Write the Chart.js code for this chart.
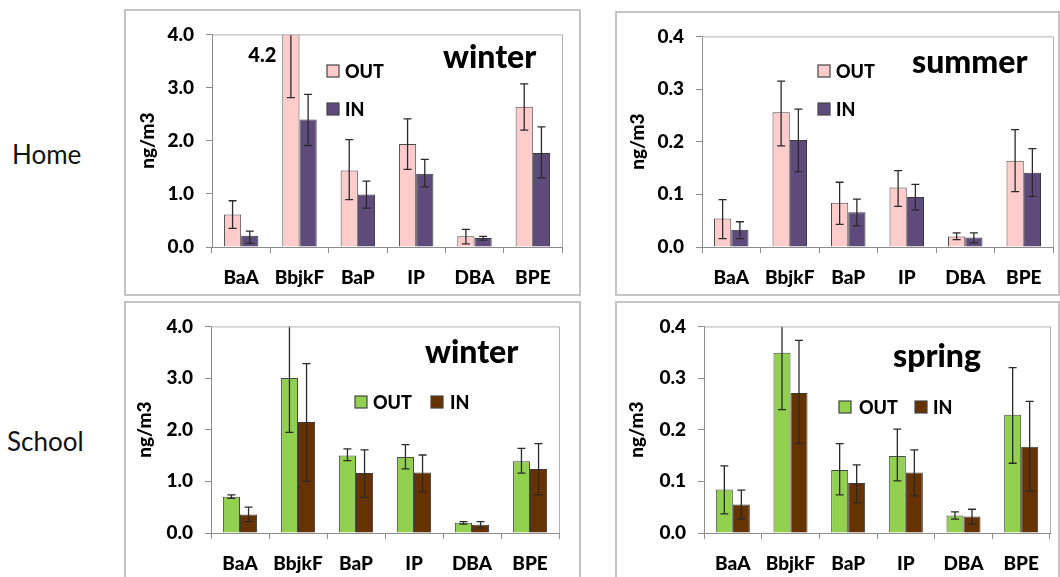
<!DOCTYPE html>
<html>
<head>
<meta charset="utf-8">
<script src="https://cdn.jsdelivr.net/npm/chart.js@4.4.1/dist/chart.umd.min.js"></script>
<style>
  body { margin: 0; width: 1060px; height: 577px; overflow: hidden; background: #fff; position: relative; font-family: Lato, sans-serif; }
  .panel { position: absolute; border: 2px solid #c4c4c4; box-sizing: border-box; background: #fff; }
  .panel div { position: absolute; left: 0; top: 0; right: 0; bottom: 0; }
  .row { position: absolute; font-size: 26px; color: #111; line-height: 1; }
</style>
</head>
<body>
<div class="row" style="left:12px; top:141px;">Home</div>
<div class="row" style="left:7px; top:428px;">School</div>

<div class="panel" style="left:124px; top:9px; width:457px; height:287px;"><div><canvas id="c1"></canvas></div></div>
<div class="panel" style="left:615px; top:11px; width:445px; height:285px;"><div><canvas id="c2"></canvas></div></div>
<div class="panel" style="left:124px; top:301px; width:457px; height:300px;"><div><canvas id="c3"></canvas></div></div>
<div class="panel" style="left:615px; top:301px; width:445px; height:300px;"><div><canvas id="c4"></canvas></div></div>

<script>
const categories = ['BaA', 'BbjkF', 'BaP', 'IP', 'DBA', 'BPE'];

// Home, winter (OUT for BbjkF is 4.2, off the scale)
const homeWinterOut = [0.61, 4.2, 1.44, 1.94, 0.20, 2.64];
const homeWinterOutErr = [[0.35, 0.87], [2.81, 5.0], [0.89, 2.02], [1.46, 2.41], [0.06, 0.33], [2.20, 3.07]];
const homeWinterIn = [0.21, 2.40, 0.99, 1.38, 0.17, 1.77];
const homeWinterInErr = [[0.07, 0.30], [1.91, 2.87], [0.73, 1.24], [1.13, 1.65], [0.13, 0.20], [1.30, 2.26]];

// Home, summer
const homeSummerOut = [0.054, 0.256, 0.084, 0.113, 0.020, 0.164];
const homeSummerOutErr = [[0.016, 0.090], [0.192, 0.315], [0.043, 0.123], [0.077, 0.145], [0.014, 0.027], [0.105, 0.223]];
const homeSummerIn = [0.033, 0.203, 0.066, 0.095, 0.018, 0.141];
const homeSummerInErr = [[0.016, 0.048], [0.143, 0.262], [0.040, 0.091], [0.070, 0.119], [0.008, 0.027], [0.096, 0.187]];

// School, winter
const schoolWinterOut = [0.70, 3.00, 1.50, 1.47, 0.20, 1.39];
const schoolWinterOutErr = [[0.67, 0.74], [1.95, 4.1], [1.40, 1.63], [1.24, 1.71], [0.17, 0.22], [1.16, 1.64]];
const schoolWinterIn = [0.36, 2.15, 1.16, 1.17, 0.16, 1.24];
const schoolWinterInErr = [[0.22, 0.50], [1.00, 3.28], [0.69, 1.61], [0.80, 1.51], [0.10, 0.22], [0.74, 1.73]];

// School, spring
const schoolSpringOut = [0.084, 0.349, 0.122, 0.149, 0.034, 0.229];
const schoolSpringOutErr = [[0.037, 0.130], [0.239, 0.41], [0.074, 0.173], [0.101, 0.201], [0.027, 0.041], [0.135, 0.320]];
const schoolSpringIn = [0.055, 0.271, 0.097, 0.117, 0.032, 0.167];
const schoolSpringInErr = [[0.027, 0.083], [0.173, 0.373], [0.059, 0.132], [0.072, 0.161], [0.017, 0.046], [0.081, 0.255]];

const winterTicks = [0, 1, 2, 3, 4];
const warmTicks = [0, 0.1, 0.2, 0.3, 0.4];

const FONT = 'Lato, "Open Sans", sans-serif';
const HEAVY = '900';

// error bars, drawn from the y scale
const errorBars = {
  id: 'errorBars',
  afterDatasetsDraw(chart) {
    const ctx = chart.ctx, ys = chart.scales.y, a = chart.chartArea;
    ctx.save();
    ctx.beginPath();
    ctx.rect(a.left, a.top, a.right - a.left, a.bottom - a.top);
    ctx.clip();
    ctx.strokeStyle = '#2a2a2a';
    ctx.lineWidth = 1.3;
    chart.data.datasets.forEach((ds, di) => {
      chart.getDatasetMeta(di).data.forEach((bar, i) => {
        const y1 = ys.getPixelForValue(ds.errors[i][0]);
        const y2 = ys.getPixelForValue(ds.errors[i][1]);
        ctx.beginPath();
        ctx.moveTo(bar.x, y1); ctx.lineTo(bar.x, y2);
        ctx.moveTo(bar.x - 4, y1); ctx.lineTo(bar.x + 4, y1);
        ctx.moveTo(bar.x - 4, y2); ctx.lineTo(bar.x + 4, y2);
        ctx.stroke();
      });
    });
    ctx.restore();
  }
};

// plot frame, season title, legend, off-scale note
const deco = {
  id: 'deco',
  afterDraw(chart, args, opts) {
    const ctx = chart.ctx, a = chart.chartArea;
    const ox = opts.origin[0], oy = opts.origin[1];
    ctx.save();
    ctx.strokeStyle = '#b0b0b0';
    ctx.lineWidth = 1;
    ctx.beginPath();
    ctx.moveTo(a.left, a.top + 0.5); ctx.lineTo(a.right + 0.5, a.top + 0.5); ctx.lineTo(a.right + 0.5, a.bottom);
    ctx.stroke();

    ctx.fillStyle = '#000';
    ctx.textBaseline = 'alphabetic';
    ctx.textAlign = 'left';
    ctx.font = HEAVY + ' 32px ' + FONT;
    ctx.fillText(opts.title, opts.titlePos[0] - ox, opts.titlePos[1] - oy);

    ctx.font = HEAVY + ' 18px ' + FONT;
    ctx.textBaseline = 'middle';
    chart.data.datasets.forEach((ds, i) => {
      const [bx, by, tx] = opts.legend[i];
      ctx.fillStyle = ds.backgroundColor;
      ctx.strokeStyle = '#444';
      ctx.lineWidth = 1.2;
      ctx.fillRect(bx - ox, by - oy - 6, 12, 12);
      ctx.strokeRect(bx - ox, by - oy - 6, 12, 12);
      ctx.fillStyle = '#000';
      ctx.fillText(ds.label, tx - ox, by - oy + 1);
    });

    if (opts.note) {
      const bar = chart.getDatasetMeta(opts.note.dataset).data[opts.note.index];
      ctx.font = HEAVY + ' 20px ' + FONT;
      ctx.textAlign = 'right';
      ctx.textBaseline = 'alphabetic';
      ctx.fillText(opts.note.text, bar.x - bar.width / 2 - 6, a.top + 28);
    }
    ctx.restore();
  }
};

function makePanel(canvasId, box, plot, ticks, outVals, outErr, inVals, inErr, colors, extra) {
  const innerX = box[0] + 2, innerY = box[1] + 2;
  const innerW = box[2] - 4, innerH = box[3] - 4;
  const axisW = plot[0] - innerX;
  const axisH = innerY + innerH - plot[3];
  const yMax = ticks[ticks.length - 1];
  const tickFont = { family: FONT, weight: HEAVY, size: 19 };
  new Chart(document.getElementById(canvasId), {
    type: 'bar',
    data: {
      labels: categories,
      datasets: [
        { label: 'OUT', data: outVals, errors: outErr, backgroundColor: colors[0], borderColor: '#4a4a4a', borderWidth: 1 },
        { label: 'IN', data: inVals, errors: inErr, backgroundColor: colors[1], borderColor: '#3a3a3a', borderWidth: 1 }
      ]
    },
    options: {
      responsive: true,
      maintainAspectRatio: false,
      animation: false,
      layout: { padding: { left: 0, top: plot[1] - innerY, right: innerX + innerW - plot[2], bottom: 0 } },
      datasets: { bar: { categoryPercentage: 0.59, barPercentage: 1 } },
      plugins: {
        legend: { display: false },
        tooltip: { enabled: false },
        deco: Object.assign({ origin: [innerX, innerY] }, extra)
      },
      scales: {
        x: {
          grid: { display: true, drawOnChartArea: false, drawTicks: true, tickLength: 6, color: '#8c8c8c', offset: true },
          border: { color: '#8c8c8c' },
          ticks: { color: '#000', font: tickFont, padding: 13, maxRotation: 0 },
          afterFit(s) { s.height = axisH; }
        },
        y: {
          min: 0,
          max: yMax,
          afterBuildTicks(s) { s.ticks = ticks.map(v => ({ value: v })); },
          grid: { display: true, drawOnChartArea: false, drawTicks: true, tickLength: 6, color: '#8c8c8c' },
          border: { color: '#8c8c8c' },
          ticks: { color: '#000', font: tickFont, padding: 12, callback: v => v.toFixed(1) },
          title: { display: true, text: 'ng/m3', color: '#000', font: tickFont, padding: { top: extra.yTitlePad, bottom: 0 } },
          afterFit(s) { s.width = axisW; }
        }
      }
    },
    plugins: [errorBars, deco]
  });
}

const pink = ['#FFCCCC', '#5F4B7B'];
const green = ['#92D050', '#663300'];

makePanel('c1', [124, 9, 457, 287], [212, 29, 562, 247], winterTicks,
  homeWinterOut, homeWinterOutErr, homeWinterIn, homeWinterInErr, pink,
  { title: 'winter', titlePos: [443, 68], legend: [[327, 71, 345], [327, 109, 345]],
    note: { dataset: 0, index: 1, text: '4.2' }, yTitlePad: 10 });

makePanel('c2', [615, 11, 445, 285], [702, 32, 1053, 247], warmTicks,
  homeSummerOut, homeSummerOutErr, homeSummerIn, homeSummerInErr, pink,
  { title: 'summer', titlePos: [912, 73], legend: [[818, 71, 836], [818, 109, 836]], yTitlePad: 9 });

makePanel('c3', [124, 301, 457, 300], [211, 323, 559, 533], winterTicks,
  schoolWinterOut, schoolWinterOutErr, schoolWinterIn, schoolWinterInErr, green,
  { title: 'winter', titlePos: [425, 363], legend: [[355, 402, 373], [431, 402, 450]], yTitlePad: 7 });

makePanel('c4', [615, 301, 445, 300], [704, 323, 1050, 533], warmTicks,
  schoolSpringOut, schoolSpringOutErr, schoolSpringIn, schoolSpringInErr, green,
  { title: 'spring', titlePos: [893, 367], legend: [[839, 407, 859], [915, 407, 933]], yTitlePad: 8 });
</script>
</body>
</html>
